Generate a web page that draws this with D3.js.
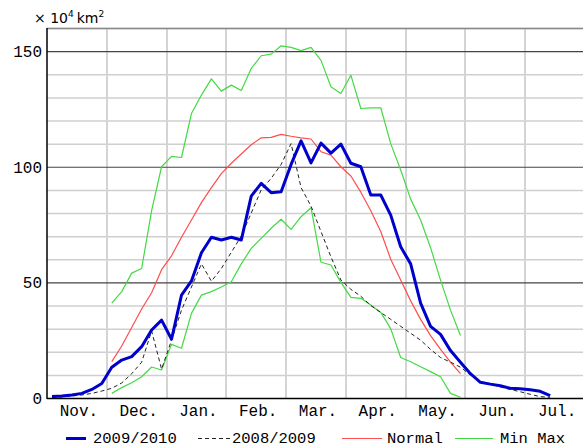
<!DOCTYPE html>
<html>
<head>
<meta charset="utf-8">
<script src="https://cdn.jsdelivr.net/npm/d3@7"></script>
<style>
  body { margin: 0; background: #fff; }
  svg text { font-family: "Liberation Mono", "DejaVu Sans Mono", monospace; fill: #000; }
</style>
</head>
<body>
<svg id="chart" width="583" height="447"></svg>
<script>
// month labels (each month = 6 pentads)
const months = ["Nov.", "Dec.", "Jan.", "Feb.", "Mar.", "Apr.", "May.", "Jun.", "Jul."];
const yTicks = [0, 50, 100, 150];

// sea ice extent, x10^4 km2, one value per pentad; *_start = first pentad index
const season0910_start = 0;
const season0910 = [0.6, 0.9, 1.3, 2, 3.7, 6.3, 13.3, 16.4, 17.9, 22.2, 29.4, 33.7, 25.4, 44.5, 50.6,
  62.8, 69.5, 68.3, 69.5, 68.3, 87.3, 92.8, 88.8, 89.2, 101, 111.2, 101.7, 110.2, 105.9, 109.8,
  101.5, 100, 87.8, 87.8, 79.1, 65.4, 58, 41, 31, 27.5, 20.5, 15.5, 10.5, 6.8, 6, 5.3, 4.2, 4, 3.6, 2.9, 1];

const season0809_start = 0;
const season0809 = [0.3, 0.5, 0.9, 1.3, 2, 3, 4.2, 6.5, 10.5, 15.5, 29, 12.5, 25, 38, 48,
  58, 50.5, 56, 63, 70, 80, 90, 95, 101, 110, 91, 83, 72, 61, 51,
  47, 44, 40, 37, 34, 31, 28, 25, 21, 17.5, 15.5, 13.3, 10, 7, 6, 4.8, 3.7, 2.7, 1.6, 0.6, 0.3];

const normal_start = 6;
const normal = [15.7, 22.5, 30.5, 38.5, 45.5, 55.5, 61.5, 69.5, 77, 84.5, 91, 97, 101.5, 105.5, 109.5,
  112.5, 112.7, 114, 113.2, 112.5, 112, 106.5, 105, 100, 96, 89, 81, 72, 60, 51,
  42, 34, 27, 21, 15.5, 10.5];

const maxExt_start = 6;
const maxExt = [41, 46, 54, 56, 81, 100, 104.5, 104, 123, 131, 138, 132.7, 135.3, 133, 142.5,
  148, 148.7, 152.3, 151.6, 150.2, 151.6, 146, 134.6, 131.7, 139.6, 125.2, 125.5, 125.5, 110, 98.6,
  86, 77, 65, 51, 38, 27];

const minExt_start = 6;
const minExt = [2, 4.5, 6.6, 9.2, 13.4, 12.1, 23.2, 21.5, 36.6, 44.5, 46, 48, 50.3, 58, 64.7,
  69, 73.4, 77.3, 72.9, 78.4, 82.3, 58.7, 57.5, 50, 43.5, 43.1, 40.2, 37, 30, 17.5,
  15.7, 13.5, 11.4, 9.2, 2, 0.3];

const W = 583, H = 447;
const mLeft = 47, mTop = 28, mBottom = 398;

const svg = d3.select("#chart");

const x = d3.scaleLinear().domain([0, 9]).range([mLeft, 585]);
const y = d3.scaleLinear().domain([0, 160]).range([mBottom, mTop]);

const pts = (vals, start) => vals.map((v, i) => [(start + i + 0.5) / 6, v]);

svg.append("clipPath").attr("id", "plot")
  .append("rect").attr("x", mLeft).attr("y", mTop).attr("width", W - mLeft).attr("height", mBottom - mTop);

const grid = svg.append("g");
// minor horizontal grid every 10
grid.selectAll(".hminor").data(d3.range(10, 161, 10).filter(d => d % 50 != 0))
  .join("line")
  .attr("x1", mLeft).attr("x2", W)
  .attr("y1", d => y(d) + 0.5).attr("y2", d => y(d) + 0.5)
  .attr("stroke", "#cfcfcf").attr("stroke-width", 1.5);
// vertical month lines
grid.selectAll(".v").data(d3.range(1, 9))
  .join("line")
  .attr("x1", d => Math.round(x(d))).attr("x2", d => Math.round(x(d)))
  .attr("y1", mTop).attr("y2", mBottom)
  .attr("stroke", "#d4d4d4").attr("stroke-width", 2);
// major horizontal lines every 50
grid.selectAll(".hmajor").data([50, 100, 150])
  .join("line")
  .attr("x1", mLeft).attr("x2", W)
  .attr("y1", d => y(d) + 0.5).attr("y2", d => y(d) + 0.5)
  .attr("stroke", "#444").attr("stroke-width", 1.2);
// top border
grid.append("line").attr("x1", mLeft).attr("x2", W).attr("y1", mTop + 0.5).attr("y2", mTop + 0.5)
  .attr("stroke", "#888").attr("stroke-width", 1.5);

const line = d3.line().x(d => x(d[0])).y(d => y(d[1]));
const lines = svg.append("g").attr("clip-path", "url(#plot)");

const series = [
  { vals: maxExt, start: maxExt_start, color: "#44d944", w: 1.2, dash: null },
  { vals: minExt, start: minExt_start, color: "#44d944", w: 1.2, dash: null },
  { vals: normal, start: normal_start, color: "#ff4d4d", w: 1.2, dash: null },
  { vals: season0809, start: season0809_start, color: "#222", w: 1, dash: "4,3" },
  { vals: season0910, start: season0910_start, color: "#0000cc", w: 3, dash: null }
];
series.forEach(s => {
  lines.append("path")
    .datum(pts(s.vals, s.start))
    .attr("d", line)
    .attr("fill", "none")
    .attr("stroke", s.color)
    .attr("stroke-width", s.w)
    .attr("stroke-dasharray", s.dash)
    .attr("stroke-linejoin", "round");
});

// axes lines
svg.append("line").attr("x1", mLeft).attr("x2", mLeft).attr("y1", mTop).attr("y2", mBottom + 1)
  .attr("stroke", "#000").attr("stroke-width", 1.5);
svg.append("line").attr("x1", mLeft).attr("x2", W).attr("y1", mBottom + 0.5).attr("y2", mBottom + 0.5)
  .attr("stroke", "#000").attr("stroke-width", 1.5);

// y tick labels
svg.selectAll(".ylab").data(yTicks)
  .join("text")
  .attr("x", 42).attr("y", d => y(d) + 6)
  .attr("text-anchor", "end")
  .attr("font-size", 16)
  .text(d => d);

// month labels
svg.selectAll(".mlab").data(months)
  .join("text")
  .attr("x", (d, i) => x(i + 0.5) + 2).attr("y", 416)
  .attr("text-anchor", "middle")
  .attr("font-size", 16)
  .text(d => d);

// unit label
const unit = svg.append("text").attr("x", 34).attr("y", 23)
  .style("font-family", "'DejaVu Sans', sans-serif").attr("font-size", 14);
unit.append("tspan").text("\u00d7 10");
unit.append("tspan").attr("font-size", 9).attr("dy", -6).text("4");
unit.append("tspan").attr("dy", 6).attr("dx", 3).text("km");
unit.append("tspan").attr("font-size", 9).attr("dy", -6).text("2");

// legend
const legend = [
  { label: "2009/2010", color: "#0000cc", w: 3, dash: null, x1: 66, x2: 86, tx: 93 },
  { label: "2008/2009", color: "#222", w: 1, dash: "4,3", x1: 198, x2: 230, tx: 232 },
  { label: "Normal", color: "#ff4d4d", w: 1.2, dash: null, x1: 342, x2: 382, tx: 387 },
  { label: "Min Max", color: "#44d944", w: 1.2, dash: null, x1: 455, x2: 493, tx: 500 }
];
const lg = svg.append("g");
legend.forEach(l => {
  lg.append("line").attr("x1", l.x1).attr("x2", l.x2).attr("y1", 438.5).attr("y2", 438.5)
    .attr("stroke", l.color).attr("stroke-width", l.w).attr("stroke-dasharray", l.dash);
  lg.append("text").attr("x", l.tx).attr("y", 442.5).attr("font-size", 15.5).text(l.label);
});
</script>
</body>
</html>
